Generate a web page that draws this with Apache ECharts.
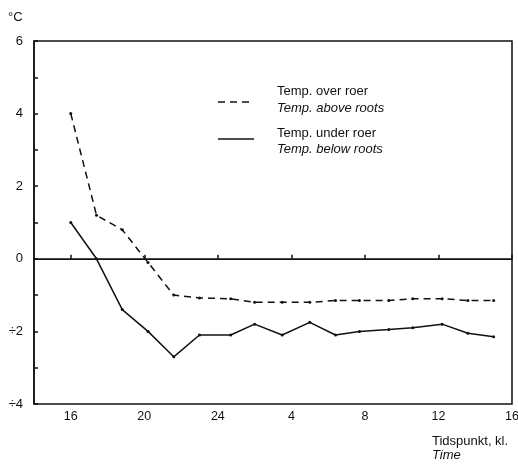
<!DOCTYPE html>
<html><head><meta charset="utf-8">
<script src="https://cdn.jsdelivr.net/npm/echarts@6/dist/echarts.min.js"></script>
<style>html,body{margin:0;padding:0;background:#fff}#c{width:518px;height:465px}</style>
</head><body><div id="c"></div>
<script>
// Time in hours since midnight of day 1 (values > 24 are next day)
const timeHours = [16, 17.4, 18.8, 20.2, 21.6, 23.0, 24.7, 26.0, 27.5, 29.0, 30.4, 31.7, 33.3, 34.6, 36.2, 37.6, 39.0];
const tempAbove = [4.0, 1.2, 0.8, -0.1, -1.0, -1.08, -1.1, -1.2, -1.2, -1.2, -1.15, -1.15, -1.15, -1.1, -1.1, -1.15, -1.15];
const tempBelow = [1.0, 0.0, -1.4, -2.0, -2.7, -2.1, -2.1, -1.8, -2.1, -1.75, -2.1, -2.0, -1.95, -1.9, -1.8, -2.05, -2.15];
const xTickValues = [16, 20, 24, 28, 32, 36, 40];
const xTickLabels = ['16', '20', '24', '4', '8', '12', '16'];
const yLabelValues = [-4, -2, 0, 2, 4, 6];
const seriesNames = ['Temp. over roer', 'Temp. under roer'];
const seriesNamesEn = ['Temp. above roots', 'Temp. below roots'];

const FONT = 'Liberation Sans, Arial, Helvetica, sans-serif';
const INK = '#111';
const chart = echarts.init(document.getElementById('c'), null, {renderer: 'canvas'});
const pair = (xs, ys) => xs.map((x, i) => [x, ys[i]]);

chart.setOption({
  animation: false,
  backgroundColor: '#fff',
  grid: {left: 34, right: 6, top: 41, bottom: 61, outerBoundsMode: 'none', containLabel: false,
    show: true, borderColor: INK, borderWidth: 1.5, backgroundColor: 'transparent'},
  xAxis: {
    type: 'value', min: 14, max: 40,
    axisLine: {show: true, lineStyle: {color: INK, width: 1.5}},
    axisTick: {show: true, inside: true, length: 4, lineStyle: {color: INK, width: 1.5}, customValues: xTickValues},
    axisLabel: {customValues: xTickValues, color: INK, fontFamily: FONT, fontSize: 12.5, margin: 6,
      formatter: v => xTickLabels[xTickValues.indexOf(v)] ?? ''},
    splitLine: {show: false}
  },
  yAxis: {
    type: 'value', min: -4, max: 6, interval: 1,
    axisLine: {show: true, lineStyle: {color: INK, width: 1.5}},
    axisTick: {show: true, inside: true, length: 4, lineStyle: {color: INK, width: 1.5}},
    axisLabel: {color: INK, fontFamily: FONT, fontSize: 13, margin: 11,
      formatter: v => yLabelValues.includes(v) ? (v < 0 ? '÷' + Math.abs(v) : String(v)) : ''},
    splitLine: {show: false}
  },
  series: [
    {
      name: seriesNames[0], type: 'line', data: pair(timeHours, tempAbove),
      symbol: 'circle', symbolSize: 3, itemStyle: {color: INK},
      lineStyle: {color: INK, width: 1.5, type: [7, 5]},
      markLine: {silent: true, symbol: 'none', label: {show: false},
        lineStyle: {color: INK, width: 1.2, type: 'solid'}, data: [{yAxis: 0}]}
    },
    {
      name: seriesNames[1], type: 'line', data: pair(timeHours, tempBelow),
      symbol: 'circle', symbolSize: 3, itemStyle: {color: INK},
      lineStyle: {color: INK, width: 1.5, type: 'solid'}
    }
  ],
  graphic: [
    {type: 'text', left: 8, top: 11, style: {text: '°C', fontFamily: FONT, fontSize: 13, fill: INK}},
    {type: 'line', shape: {x1: 218, y1: 102, x2: 254, y2: 102}, style: {stroke: INK, lineWidth: 1.5, lineDash: [7, 5]}},
    {type: 'text', left: 277, top: 85, style: {text: seriesNames[0], fontFamily: FONT, fontSize: 13, fill: INK}},
    {type: 'text', left: 277, top: 102, style: {text: seriesNamesEn[0], fontFamily: FONT, fontSize: 13, fontStyle: 'italic', fill: INK}},
    {type: 'line', shape: {x1: 218, y1: 139, x2: 254, y2: 139}, style: {stroke: INK, lineWidth: 1.5}},
    {type: 'text', left: 277, top: 127, style: {text: seriesNames[1], fontFamily: FONT, fontSize: 13, fill: INK}},
    {type: 'text', left: 277, top: 143, style: {text: seriesNamesEn[1], fontFamily: FONT, fontSize: 13, fontStyle: 'italic', fill: INK}},
    {type: 'text', left: 432, top: 435, style: {text: 'Tidspunkt, kl.', fontFamily: FONT, fontSize: 13, fill: INK}},
    {type: 'text', left: 432, top: 449, style: {text: 'Time', fontFamily: FONT, fontSize: 13, fontStyle: 'italic', fill: INK}}
  ]
});
</script></body></html>
